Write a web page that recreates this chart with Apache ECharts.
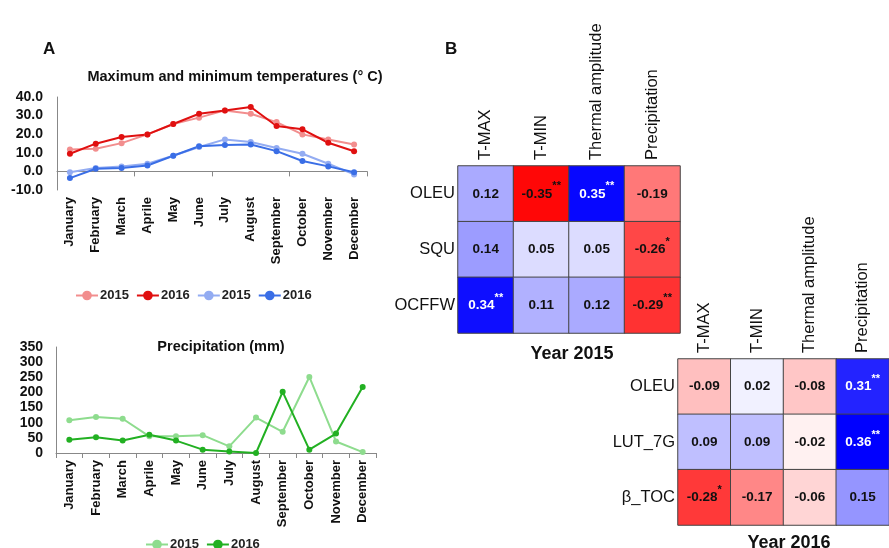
<!DOCTYPE html>
<html><head><meta charset="utf-8">
<script src="https://cdn.jsdelivr.net/npm/echarts@6/dist/echarts.min.js"></script>
<style>html,body{margin:0;padding:0;background:#fff}#c{width:889px;height:548px}</style>
</head><body><div id="c"></div>
<script>
const months = ['January','February','March','Aprile','May','June','July','August','September','October','November','December'];
const tmax2015 = [11.8,12.2,15.2,19.9,25.5,28.9,32.8,31.0,26.5,19.9,17.2,14.5];
const tmax2016 = [9.5,14.9,18.5,19.9,25.5,31.0,32.8,34.6,24.4,22.6,15.4,10.8];
const tmin2015 = [-0.4,1.8,2.7,4.1,8.4,13.1,17.2,15.8,12.6,9.5,4.1,-1.6];
const tmin2016 = [-3.6,1.4,1.8,3.2,8.4,13.5,14.2,14.5,10.9,5.6,2.7,-0.5];
const precip2015 = [108,119,113,55,55,59,22,117,70,251,38,3];
const precip2016 = [44,52,41,60,41,11,5,0,202,11,64,218];
const tempTicks = [-10,0,10,20,30,40];
const precipTicks = [0,50,100,150,200,250,300,350];
const heatCols = ['T-MAX','T-MIN','Thermal amplitude','Precipitation'];
const rows2015 = ['OLEU','SQU','OCFFW'];
const rows2016 = ['OLEU','LUT_7G','β_TOC'];
const corr2015 = [[0.12,-0.35,0.35,-0.19],[0.14,0.05,0.05,-0.26],[0.34,0.11,0.12,-0.29]];
const corr2016 = [[-0.09,0.02,-0.08,0.31],[0.09,0.09,-0.02,0.36],[-0.28,-0.17,-0.06,0.15]];
const sig2015 = [['','**','**',''],['','','','*'],['**','','','**']];
const sig2016 = [['','','','**'],['','','','**'],['*','','','']];

const FF = 'Liberation Sans, Arial, sans-serif';
const chart = echarts.init(document.getElementById('c'), null, {renderer:'canvas'});

function heatData(corr){
  const d=[];
  corr.forEach((r,i)=>r.forEach((v,j)=>d.push([j,i,v])));
  return d;
}
function heatLabel(sig){
  return p => {
    const v = p.value[2];
    const s = sig[p.value[1]][p.value[0]];
    const w = v >= 0.3;
    const t = v.toFixed(2);
    return (w ? '{w|'+t+'}' : '{b|'+t+'}') + (s ? (w ? '{ws|'+s+'}' : '{bs|'+s+'}') : '');
  };
}
const richHeat = {
  b:{color:'#111',fontWeight:'bold',fontSize:13.5,fontFamily:FF},
  w:{color:'#fff',fontWeight:'bold',fontSize:13.5,fontFamily:FF},
  bs:{color:'#111',fontWeight:'bold',fontSize:11,fontFamily:FF,padding:[0,0,15,0]},
  ws:{color:'#fff',fontWeight:'bold',fontSize:11,fontFamily:FF,padding:[0,0,15,0]}
};
const lineSeries = (name,data,color,x,y)=>({
  name, type:'line', data, xAxisIndex:x, yAxisIndex:y,
  symbol:'circle', symbolSize:6, color,
  lineStyle:{width:2,color}, itemStyle:{color}
});
const catAxisLabel = {rotate:90,fontWeight:'bold',fontSize:13,color:'#111',fontFamily:FF,margin:7};
const legendText = {fontWeight:'bold',fontSize:13,color:'#222',fontFamily:FF,padding:[0,0,0,-3]};
const heatColLabel = {rotate:-90,fontSize:16.5,color:'#111',fontFamily:FF,margin:6};

const option = {
  animation:false,
  textStyle:{fontFamily:FF},
  title:[
    {text:'A',left:38,top:36,textStyle:{fontSize:17,fontWeight:'bold',color:'#111',fontFamily:FF}},
    {text:'B',left:440,top:36,textStyle:{fontSize:17,fontWeight:'bold',color:'#111',fontFamily:FF}},
    {text:'Maximum and minimum temperatures (° C)',left:230,textAlign:'center',top:64,textStyle:{fontSize:14.5,fontWeight:'bold',color:'#111',fontFamily:FF}},
    {text:'Precipitation (mm)',left:216,textAlign:'center',top:334,textStyle:{fontSize:14.5,fontWeight:'bold',color:'#111',fontFamily:FF}},
    {text:'Year 2015',left:567,textAlign:'center',top:340,textStyle:{fontSize:18,fontWeight:'bold',color:'#111',fontFamily:FF}},
    {text:'Year 2016',left:784,textAlign:'center',top:529,textStyle:{fontSize:18,fontWeight:'bold',color:'#111',fontFamily:FF}}
  ],
  legend:[
    {left:70,top:284,itemWidth:22,itemHeight:12,itemGap:7,
     data:['tmax2015','tmax2016','tmin2015','tmin2016'],
     formatter:n=>n.replace(/\D/g,''),
     textStyle:legendText},
    {left:140,top:533,itemWidth:22,itemHeight:12,itemGap:7,
     data:['prec2015','prec2016'],
     formatter:n=>n.replace(/\D/g,''),
     textStyle:legendText}
  ],
  grid:[
    {left:57,top:97,width:310,height:93},
    {left:56,top:347,width:320,height:106},
    {left:458,top:166,width:222,height:167},
    {left:678,top:359,width:222,height:166}
  ],
  xAxis:[
    {gridIndex:0,type:'category',data:months,axisLine:{show:false,onZero:false},axisTick:{show:false},axisLabel:catAxisLabel},
    {gridIndex:1,type:'category',data:months,axisLine:{lineStyle:{color:'#888'}},axisTick:{show:true,lineStyle:{color:'#888'}},axisLabel:catAxisLabel},
    {gridIndex:2,type:'category',data:heatCols,position:'top',axisLine:{show:false},axisTick:{show:false},axisLabel:heatColLabel},
    {gridIndex:3,type:'category',data:heatCols,position:'top',axisLine:{show:false},axisTick:{show:false},axisLabel:heatColLabel},
    {gridIndex:0,type:'category',data:months,position:'bottom',axisLine:{onZero:true,lineStyle:{color:'#888'}},axisTick:{show:true,lineStyle:{color:'#888'}},axisLabel:{show:false}}
  ],
  yAxis:[
    {gridIndex:0,type:'value',min:tempTicks[0],max:tempTicks[tempTicks.length-1],interval:10,splitLine:{show:false},
     axisLine:{show:true,lineStyle:{color:'#888'}},axisTick:{show:false},
     axisLabel:{fontWeight:'bold',fontSize:14,color:'#111',fontFamily:FF,formatter:v=>v.toFixed(1),margin:14}},
    {gridIndex:1,type:'value',min:precipTicks[0],max:precipTicks[precipTicks.length-1],interval:50,splitLine:{show:false},
     axisLine:{show:true,lineStyle:{color:'#888'}},axisTick:{show:false},
     axisLabel:{fontWeight:'bold',fontSize:14,color:'#111',fontFamily:FF,margin:13}},
    {gridIndex:2,type:'category',data:rows2015,inverse:true,axisLine:{show:false},axisTick:{show:false},
     axisLabel:{fontSize:16.5,color:'#111',fontFamily:FF,margin:3}},
    {gridIndex:3,type:'category',data:rows2016,inverse:true,axisLine:{show:false},axisTick:{show:false},
     axisLabel:{fontSize:16.5,color:'#111',fontFamily:FF,margin:3}}
  ],
  visualMap:[
    {show:false,seriesIndex:6,min:-0.36,max:0.36,dimension:2,inRange:{color:['#ff0000','#ffffff','#0000ff']}},
    {show:false,seriesIndex:7,min:-0.36,max:0.36,dimension:2,inRange:{color:['#ff0000','#ffffff','#0000ff']}}
  ],
  series:[
    lineSeries('tmax2015',tmax2015,'#f28e8e',0,0),
    lineSeries('tmax2016',tmax2016,'#e01010',0,0),
    lineSeries('tmin2015',tmin2015,'#93acf2',0,0),
    lineSeries('tmin2016',tmin2016,'#3a6ee6',0,0),
    lineSeries('prec2015',precip2015,'#8edc8e',1,1),
    lineSeries('prec2016',precip2016,'#22b022',1,1),
    {type:'heatmap',xAxisIndex:2,yAxisIndex:2,data:heatData(corr2015),
     itemStyle:{borderColor:'#444',borderWidth:1},
     label:{show:true,formatter:heatLabel(sig2015),rich:richHeat}},
    {type:'heatmap',xAxisIndex:3,yAxisIndex:3,data:heatData(corr2016),
     itemStyle:{borderColor:'#444',borderWidth:1},
     label:{show:true,formatter:heatLabel(sig2016),rich:richHeat}}
  ]
};
chart.setOption(option);
</script></body></html>
